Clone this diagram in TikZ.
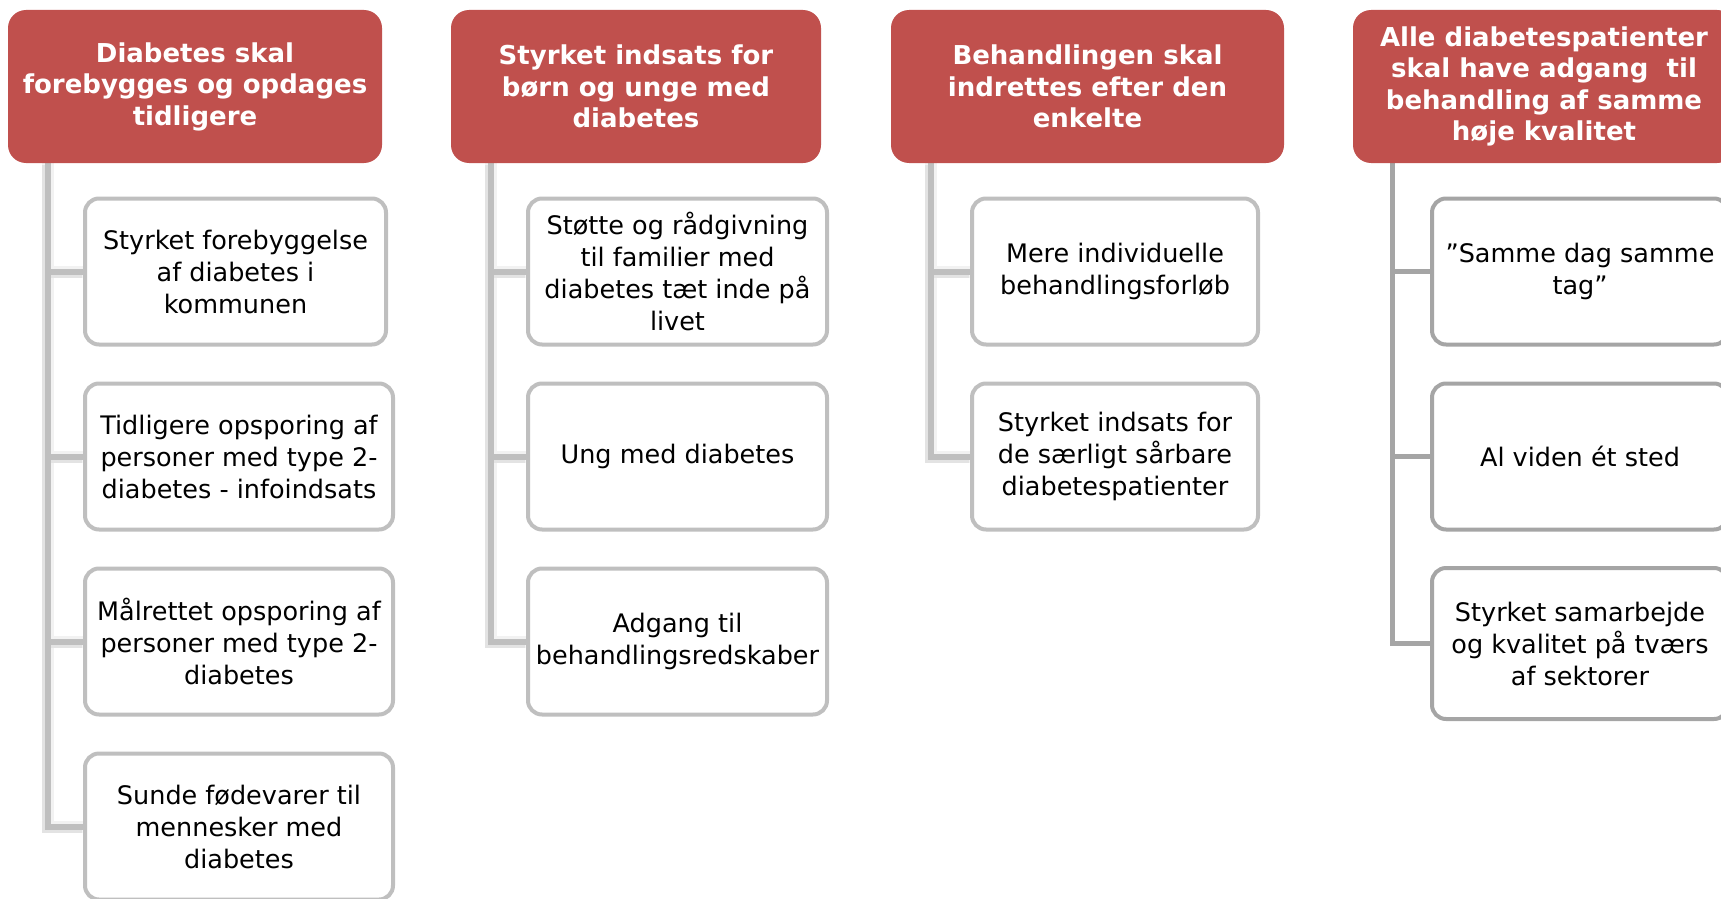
\documentclass[tikz,border=0pt]{standalone}
\usepackage{fontspec}
\setmainfont{DejaVu Sans}
\usetikzlibrary{positioning,backgrounds}
\definecolor{headred}{HTML}{C0504D}
\definecolor{boxgray}{HTML}{BFBFBF}
\definecolor{deepgray}{HTML}{A5A5A5}

\begin{document}
\begin{tikzpicture}[x=1pt,y=1pt,node distance=185pt]

  \tikzstyle{head}=[rectangle,rounded corners=18pt,fill=headred,text=white,
  		    font=\bfseries\fontsize{26}{31.5}\selectfont,align=center,
  		    minimum height=153pt,inner sep=0pt]
  \tikzstyle{item}=[rectangle,rounded corners=14pt,draw=boxgray,line width=4pt,
  		    fill=white,font=\fontsize{25.5}{32}\selectfont,align=center,
  		    minimum height=146pt,inner sep=0pt]
  \tikzstyle{dark item}=[item,draw=deepgray]
  \tikzstyle{elbow}=[to path={([xshift=40pt]\tikztostart.south west) |- (\tikztotarget.west)}]
  \tikzstyle{link}=[elbow,draw=boxgray,line width=6pt]
  \tikzstyle{link shadow}=[elbow,draw=black!11,line width=8pt,
  		    transform canvas={shift={(-1.5pt,-2pt)}},
  		    preaction={draw=black!5,line width=12pt}]
  \tikzstyle{dark link}=[elbow,draw=deepgray,line width=5pt,xshift=1pt]

  \useasboundingbox (0,0) rectangle (1721,-899);

  \begin{scope}
    \node [head, minimum width=374pt] (hA) at (195,-86.5)
      {Diabetes skal\\forebygges og opdages\\tidligere};
    \node [head, minimum width=370pt] (hB) at (636,-86.5)
      {Styrket indsats for\\børn og unge med\\diabetes};
    \node [head, minimum width=393pt] (hC) at (1087.5,-86.5)
      {Behandlingen skal\\indrettes efter den\\enkelte};
    \node [head, minimum width=382pt] (hD) at (1544,-86.5)
      {Alle diabetespatienter\\skal have adgang\ \ til\\behandling af samme\\høje kvalitet};

    \node [item, minimum width=301pt] (a1) [below of=hA, xshift=40.5pt]
      {Styrket forebyggelse\\af diabetes i\\kommunen};
    \node [item, minimum width=308pt] (a2) [below of=a1, xshift=3.5pt]
      {Tidligere opsporing af\\personer med type 2-\\diabetes - infoindsats};
    \node [item, minimum width=308pt] (a3) [below of=a2]
      {Målrettet opsporing af\\personer med type 2-\\diabetes};
    \node [item, minimum width=308pt] (a4) [below of=a3]
      {Sunde fødevarer til\\mennesker med\\diabetes};

    \node [item, minimum width=299pt] (b1) [below of=hB, xshift=41.5pt]
      {Støtte og rådgivning\\til familier med\\diabetes tæt inde på\\livet};
    \node [item, minimum width=299pt] (b2) [below of=b1] {Ung med diabetes};
    \node [item, minimum width=299pt] (b3) [below of=b2]
      {Adgang til\\behandlingsredskaber};

    \node [item, minimum width=286pt] (c1) [below of=hC, xshift=27.5pt]
      {Mere individuelle\\behandlingsforløb};
    \node [item, minimum width=286pt] (c2) [below of=c1]
      {Styrket indsats for\\de særligt sårbare\\diabetespatienter};

    \node [dark item, minimum width=296pt] (d1) [below of=hD, xshift=36pt]
      {”Samme dag samme\\tag”};
    \node [dark item, minimum width=296pt] (d2) [below of=d1] {Al viden ét sted};
    \node [dark item, minimum width=296pt, minimum height=151pt] (d3) [below of=d2, yshift=-2pt]
      {Styrket samarbejde\\og kvalitet på tværs\\af sektorer};
  \end{scope}

  \begin{scope}[on background layer]
    % soft shadows first
    \path
    (hA) edge [link shadow] (a4) edge [link shadow] (a3)
         edge [link shadow] (a2) edge [link shadow] (a1)
    (hB) edge [link shadow] (b3) edge [link shadow] (b2) edge [link shadow] (b1)
    (hC) edge [link shadow] (c2) edge [link shadow] (c1);

    \path
    (hA)
    edge [link] (a4)
    edge [link] (a3)
    edge [link] (a2)
    edge [link] (a1)

    (hB)
    edge [link] (b3)
    edge [link] (b2)
    edge [link] (b1)

    (hC)
    edge [link] (c2)
    edge [link] (c1)

    (hD)
    edge [dark link] (d3)
    edge [dark link] (d2)
    edge [dark link] (d1);
  \end{scope}

\end{tikzpicture}
\end{document}
